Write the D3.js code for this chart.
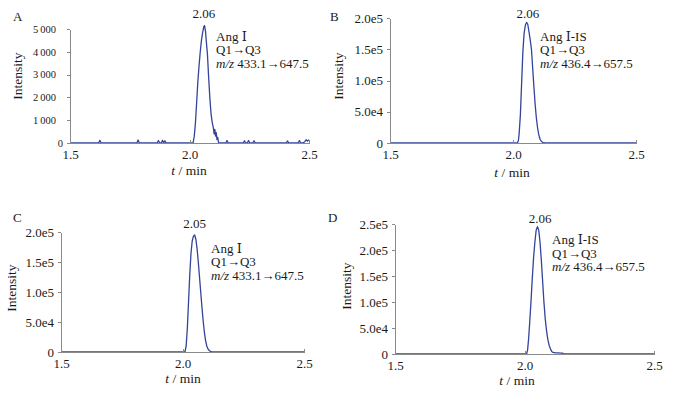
<!DOCTYPE html>
<html>
<head>
    <meta charset="UTF-8">
    <title>MRM chromatograms</title>
    <script src="https://cdn.jsdelivr.net/npm/d3@7/dist/d3.min.js"></script>
    <style>
        body{margin:0;background:#fff;}
        text{font-family:"Liberation Serif","DejaVu Serif",serif;fill:#1a1a1a;}
        .axis path,.axis line{stroke:#8a8a8a;stroke-width:1px;shape-rendering:crispEdges;}
        .axis text{font-size:13px;fill:#1a1a1a;}
        .trace{fill:none;stroke:#34449a;stroke-width:1.3px;stroke-linejoin:round;}
    </style>
</head>
<body>
<script>
    // panel text
    var panelLetters=["A","B","C","D"];
    var peakLabels=["2.06","2.06","2.05","2.06"];
    var compounds=["Ang \u2160","Ang \u2160-IS","Ang \u2160","Ang \u2160-IS"];
    var transitions=["433.1\u2192647.5","436.4\u2192657.5","433.1\u2192647.5","436.4\u2192657.5"];

    // ticks
    var xTicks=[1.5,2.0,2.5];
    var xTickLabels=["1.5","2.0","2.5"];
    var yTicksA=[0,1000,2000,3000,4000,5000];
    var yTickLabelsA=["0","1\u2009000","2\u2009000","3\u2009000","4\u2009000","5\u2009000"];
    var yTicksBC=[0,50000,100000,150000,200000];
    var yTickLabelsBC=["0","5.0e4","1.0e5","1.5e5","2.0e5"];
    var yTicksD=[0,50000,100000,150000,200000,250000];
    var yTickLabelsD=["0","5.0e4","1.0e5","1.5e5","2.0e5","2.5e5"];

    // A: Ang I, low level, with baseline noise blips
    var timeA=[1.5,1.62,1.625,1.63,1.78,1.785,1.79,1.865,1.87,1.875,1.882,1.887,1.892,1.897,1.902,
        2.015,2.02,2.025,2.03,2.035,2.04,2.045,2.05,2.055,2.06,2.063,2.067,2.07,2.075,2.08,2.085,2.09,2.095,
        2.1,2.103,2.106,2.109,2.112,2.115,2.118,2.122,
        2.152,2.157,2.162,2.225,2.23,2.235,2.242,2.247,2.252,2.265,2.27,2.275,
        2.405,2.41,2.415,2.455,2.46,2.465,2.475,2.482,2.488,2.494,2.5];
    var intensA=[0,0,120,0,0,130,0,0,110,0,0,120,0,100,0,
        0,300,900,1800,2700,3400,4000,4500,4850,5100,5150,4900,4500,3900,2900,2000,1300,900,
        650,400,600,300,450,150,250,0,
        0,110,0,0,100,0,0,110,0,0,100,0,
        0,90,0,0,110,0,0,60,140,80,150];

    // B: Ang I-IS
    var timeB=[1.5,2.018,2.022,2.025,2.03,2.035,2.04,2.045,2.05,2.055,2.06,2.065,2.07,2.075,2.08,2.085,
        2.09,2.095,2.1,2.105,2.11,2.115,2.12,2.125,2.13,2.5];
    var intensB=[0,0,4000,15000,45000,95000,145000,175000,188000,193000,190000,178000,165000,150000,120000,90000,
        62000,40000,24000,13000,6000,3000,1200,400,0,0];

    // C: Ang I
    var timeC=[1.5,2.01,2.015,2.02,2.025,2.03,2.035,2.04,2.045,2.05,2.055,2.06,2.065,2.07,2.075,2.08,
        2.085,2.09,2.095,2.1,2.105,2.11,2.115,2.12,2.125,2.5];
    var intensC=[0,0,10000,40000,85000,130000,165000,185000,193000,195000,188000,172000,150000,125000,100000,75000,
        52000,33000,19000,10000,5000,2500,1000,300,0,0];

    // D: Ang I-IS
    var timeD=[1.5,2.008,2.012,2.016,2.02,2.025,2.03,2.035,2.04,2.045,2.05,2.055,2.06,2.065,2.07,2.075,
        2.08,2.085,2.09,2.095,2.1,2.105,2.11,2.12,2.13,2.14,2.148,2.15,2.5];
    var intensD=[0,0,8000,30000,60000,100000,145000,185000,215000,238000,245000,238000,215000,180000,140000,100000,
        68000,45000,28000,17000,10000,5000,3000,2000,2000,1800,1500,0,0];

    var times=[timeA,timeB,timeC,timeD];
    var intens=[intensA,intensB,intensC,intensD];
    var yTickSets=[yTicksA,yTicksBC,yTicksBC,yTicksD];
    var yLabelSets=[yTickLabelsA,yTickLabelsBC,yTickLabelsBC,yTickLabelsD];

    // layout of each panel (pixels)
    var layout=[
        {x0:70,x1:309,y0:143,y1:29,lx:13,ly:21,yt:[22,76],xt:[189,175],an:[216,40.5],pk:18,yfs:10.5,shift:7},
        {x0:390,x1:636,y0:143,y1:18,lx:330,ly:21,yt:[343,76],xt:[512,177],an:[540,40.5],pk:17.5,yfs:13,shift:0},
        {x0:61,x1:304,y0:352,y1:232,lx:13,ly:222,yt:[16,288],xt:[183,383],an:[211,252.5],pk:228,yfs:13,shift:0},
        {x0:395,x1:654,y0:354,y1:224,lx:328,ly:222,yt:[351,286],xt:[517,385],an:[552,244],pk:223,yfs:13,shift:0}
    ];

    var svg=d3.select("body").append("svg")
            .attr("width",675)
            .attr("height",395);

    layout.forEach(function(L,i){
        var yTicks=yTickSets[i];
        var x=d3.scaleLinear().domain([1.5,2.5]).range([L.x0,L.x1]);
        var y=d3.scaleLinear().domain([0,yTicks[yTicks.length-1]]).range([L.y0,L.y1]);
        var g=svg.append("g");

        var pts=d3.zip(times[i],intens[i]);
        g.append("path")
                .datum(pts)
                .attr("class","trace")
                .attr("d",d3.line().x(function(d){return x(d[0]);}).y(function(d){return y(d[1]);}));

        var gx=g.append("g")
                .attr("class","axis")
                .attr("transform","translate(0,"+L.y0+")")
                .call(d3.axisBottom(x).tickValues(xTicks)
                        .tickFormat(function(d,j){return xTickLabels[j];})
                        .tickSize(-3).tickSizeOuter(0).tickPadding(7));
        gx.selectAll("text").attr("font-size",13);

        var labels=yLabelSets[i];
        var gy=g.append("g")
                .attr("class","axis")
                .attr("transform","translate("+L.x0+",0)")
                .call(d3.axisLeft(y).tickValues(yTicks)
                        .tickFormat(function(d,j){return labels[j];})
                        .tickSize(3).tickSizeOuter(0).tickPadding(4));
        gy.selectAll("text")
                .style("font-size",L.yfs+"px")
                .attr("dx",function(d){return d===0?0:-L.shift;});

        // axis titles
        g.append("text")
                .attr("transform","translate("+L.yt[0]+","+L.yt[1]+") rotate(-90)")
                .attr("text-anchor","middle")
                .style("font-size","13.5px")
                .text("Intensity");
        var xt=g.append("text")
                .attr("x",L.xt[0]).attr("y",L.xt[1])
                .attr("text-anchor","middle")
                .style("font-size","13.5px");
        xt.append("tspan").style("font-style","italic").text("t");
        xt.append("tspan").text(" / min");

        // panel letter
        g.append("text").attr("x",L.lx).attr("y",L.ly).style("font-size","13px").text(panelLetters[i]);

        // retention time label
        g.append("text")
                .attr("x",x(+peakLabels[i])).attr("y",L.pk)
                .attr("text-anchor","middle")
                .style("font-size","13px")
                .text(peakLabels[i]);

        // compound / transition annotation
        var an=g.append("text").attr("x",L.an[0]).attr("y",L.an[1]).style("font-size","13px");
        an.append("tspan").attr("x",L.an[0]).text(compounds[i]);
        an.append("tspan").attr("x",L.an[0]).attr("dy",13.5).text("Q1\u2192Q3");
        an.append("tspan").attr("x",L.an[0]).attr("dy",13.5).style("font-style","italic").text("m/z");
        an.append("tspan").text(" "+transitions[i]);
    });
</script>
</body>
</html>
